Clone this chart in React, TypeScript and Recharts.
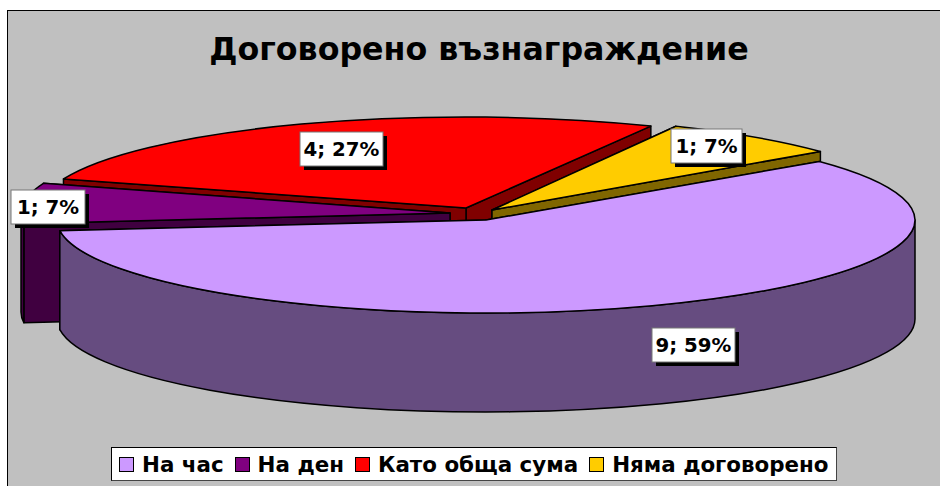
import React from "react";
import { PieChart, Pie, Legend } from "recharts";

const title = "Договорено възнаграждение";
const categories = ["На час", "На ден", "Като обща сума", "Няма договорено"];
const counts = [9, 1, 4, 1];
const percents = [59, 7, 27, 7];

const topColors = ["#CC99FF", "#800080", "#FF0000", "#FFCC00"];
const wallColors = ["#664C80", "#400040", "#800000", "#806600"];
const explode = [[0, 0], [-36, -7], [-20, -12], [6, -10]];
const tilts = [93 / 429, 93 / 429, 91 / 429, 93 / 429];
const radiusScale = [1, 1, 0.99, 0.985];
const labelBoxes = [[652, 328, 83], [11, 190, 74], [300, 132, 83], [671, 129, 71]];
const paintOrder = [2, 3, 1, 0];

const rows = categories.map((name, i) => ({ name, value: percents[i], count: counts[i] }));

const CX = 486;
const CY = 220;
const RX = 429;
const DEPTH = 99;
const FONT = "'DejaVu Sans', sans-serif";

const makeSlice = (layer: number) => (props: any) => {
  const i = categories.indexOf(props.name);
  if (i !== layer) return <g />;
  const rx = props.outerRadius * radiusScale[i];
  const ry = props.outerRadius * tilts[i];
  const cx = props.cx + explode[i][0];
  const cy = props.cy + explode[i][1];
  const a0 = props.startAngle;
  const a1 = props.endAngle;
  const pt = (a: number, d = 0) => {
    const r = (a * Math.PI) / 180;
    return [cx + rx * Math.cos(r), cy - ry * Math.sin(r) + d];
  };
  const arc = (from: number, to: number, d = 0) => {
    const p = pt(to, d);
    const large = Math.abs(to - from) > 180 ? 1 : 0;
    const sweep = to < from ? 1 : 0;
    return `A ${rx} ${ry} 0 ${large} ${sweep} ${p[0]} ${p[1]}`;
  };
  const s = pt(a0);
  const top = `M ${cx} ${cy} L ${s[0]} ${s[1]} ${arc(a0, a1)} Z`;
  const side = (a: number) => {
    const p = pt(a);
    return `M ${cx} ${cy} L ${p[0]} ${p[1]} L ${p[0]} ${p[1] + DEPTH} L ${cx} ${cy + DEPTH} Z`;
  };
  // the edge whose rim point lies lower on the page is nearer, so it is painted last
  const edges = [a0, a1].sort((p, q) => pt(p)[1] - pt(q)[1]);
  const walls: string[] = [];
  for (const k of [0, -360]) {
    const hi = Math.min(a0, 0 + k);
    const lo = Math.max(a1, -180 + k);
    if (hi > lo) {
      const p = pt(hi);
      const q = pt(lo);
      walls.push(
        `M ${p[0]} ${p[1]} ${arc(hi, lo)} L ${q[0]} ${q[1] + DEPTH} ${arc(lo, hi, DEPTH)} Z`
      );
    }
  }
  const stroke = { stroke: "#000", strokeWidth: 1.5, strokeLinejoin: "round" as const };
  return (
    <g>
      {edges.map((a) => (
        <path key={a} d={side(a)} fill={wallColors[i]} {...stroke} />
      ))}
      {walls.map((d) => (
        <path key={d} d={d} fill={wallColors[i]} {...stroke} />
      ))}
      <path d={top} fill={topColors[i]} {...stroke} />
    </g>
  );
};

const renderLabel = (props: any) => {
  const i = categories.indexOf(props.name);
  const [x, y, w] = labelBoxes[i];
  const h = 34;
  return (
    <g>
      <rect x={x + 4} y={y + 4} width={w} height={h} fill="#000" />
      <rect x={x} y={y} width={w} height={h} fill="#fff" stroke="#777" strokeWidth={1} />
      <text
        x={x + w / 2}
        y={y + h / 2 + 7}
        textAnchor="middle"
        fontFamily={FONT}
        fontWeight={700}
        fontSize={19.8}
        fill="#000"
      >
        {`${counts[i]}; ${percents[i]}%`}
      </text>
    </g>
  );
};

const LegendBox = () => (
  <div
    style={{
      boxSizing: "border-box",
      width: 726,
      height: 34,
      background: "#fff",
      border: "1px solid #000",
      borderRightColor: "#444",
      borderBottomColor: "#444",
      display: "flex",
      alignItems: "center",
      paddingLeft: 7,
      fontFamily: FONT,
      fontWeight: 700,
      fontSize: 21.4,
      color: "#000",
      whiteSpace: "nowrap",
    }}
  >
    {categories.map((c, i) => (
      <span key={c} style={{ display: "flex", alignItems: "center", marginRight: 11 }}>
        <span
          style={{
            boxSizing: "border-box",
            width: 15,
            height: 15,
            background: topColors[i],
            border: "1px solid #000",
            marginRight: 8,
          }}
        />
        {c}
      </span>
    ))}
  </div>
);

export default function App() {
  return (
    <div style={{ position: "fixed", left: 0, top: 0, width: 940, height: 486, background: "#fff", overflow: "hidden" }}>
      <div
        style={{
          position: "absolute",
          left: 7,
          top: 10,
          right: 0,
          bottom: 0,
          background: "#C0C0C0",
          borderLeft: "1px solid #000",
          borderTop: "1px solid #000",
        }}
      />
      <div
        style={{
          position: "absolute",
          left: 0,
          width: 958,
          top: 31,
          textAlign: "center",
          fontFamily: FONT,
          fontWeight: 700,
          fontSize: 31.7,
          color: "#000",
          whiteSpace: "nowrap",
        }}
      >
        {title}
      </div>
      <div style={{ position: "absolute", left: 0, top: 0 }}>
        <PieChart width={940} height={486} margin={{ top: 0, right: 0, bottom: 0, left: 0 }}>
          {paintOrder.map((layer, n) => {
            const Slice = makeSlice(layer);
            return (
              <Pie
                key={layer}
                data={rows}
                dataKey="value"
                nameKey="name"
                cx={CX}
                cy={CY}
                innerRadius={0}
                outerRadius={RX}
                startAngle={39}
                endAngle={-321}
                stroke="none"
                isAnimationActive={false}
                shape={Slice}
                inactiveShape={Slice}
                activeShape={Slice}
                labelLine={false}
                label={n === paintOrder.length - 1 ? renderLabel : false}
              />
            );
          })}
          <Legend content={<LegendBox />} wrapperStyle={{ left: 111, top: 447, width: 726, bottom: "auto" }} />
        </PieChart>
      </div>
    </div>
  );
}
